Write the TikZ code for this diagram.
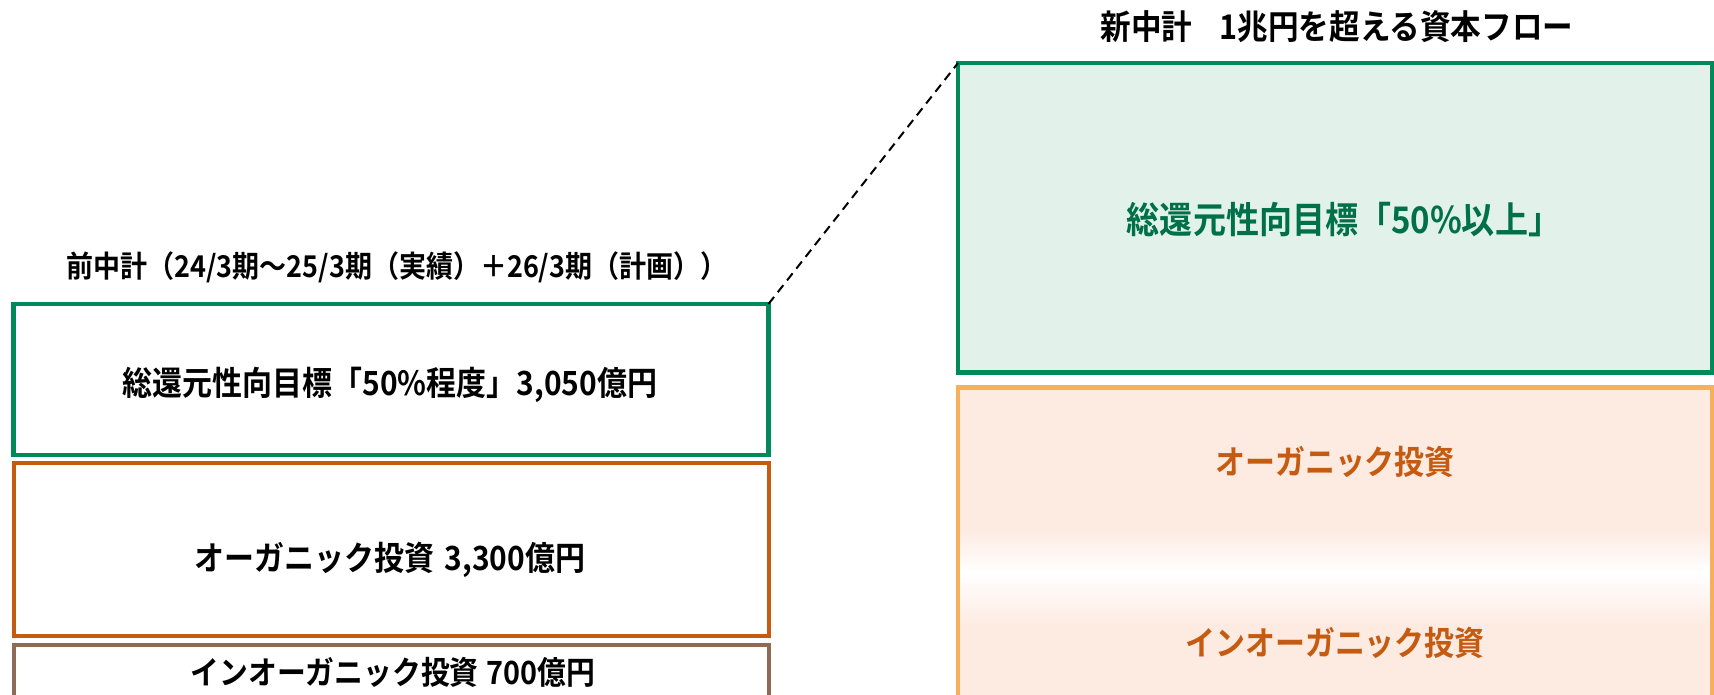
\documentclass[tikz,border=0pt]{standalone}
\usepackage{fontspec}
\setmainfont{Noto Sans CJK JP}[BoldFont={Noto Sans CJK JP Bold}, FakeStretch=0.9]
\definecolor{gline}{HTML}{008A5A}
\definecolor{gfill}{HTML}{E2F2EA}
\definecolor{gtext}{HTML}{00704A}
\definecolor{oline}{HTML}{C55A11}
\definecolor{oline2}{HTML}{F6B05C}
\definecolor{peach}{HTML}{FDEBE2}
\definecolor{bline}{HTML}{8E6B57}
\begin{document}
\begin{tikzpicture}[x=1pt,y=-1pt,
  box/.style={draw, inner sep=0pt, outer sep=0pt, line width=4.5pt},
  lbl/.style={inner sep=0pt, font=\bfseries\fontsize{33.3}{40}\selectfont},
  ttl/.style={inner sep=0pt, font=\bfseries\fontsize{30}{36}\selectfont}]
\useasboundingbox (0,0) rectangle (1714,695);
\clip (0,0) rectangle (1714,695);
% left column
\node[box, draw=gline, minimum width=755pt, minimum height=151pt] (l1) at (391,379.5) {};
\node[box, draw=oline, line width=4pt, minimum width=755pt, minimum height=172.5pt] (l2) at (391,549.25) {};
\node[box, draw=bline, line width=4pt, minimum width=755pt, minimum height=75pt] (l3) at (391,682.5) {};
\node[ttl] (lt) at (397,267) {前中計（24/3期～25/3期（実績）＋26/3期（計画））};
\node[lbl] (l1t) at (390,385) {総還元性向目標「50\%程度」3,050億円};
\node[lbl] (l2t) at (390,560) {オーガニック投資\hspace{0.3em}3,300億円};
\node[lbl, font=\bfseries\fontsize{32}{40}\selectfont] (l3t) at (393,672) {インオーガニック投資\hspace{0.25em}700億円};
% right column
\node[box, draw=gline, fill=gfill, minimum width=754pt, minimum height=309.5pt] (r1) at (1335,217.75) {};
\node[box, draw=oline2, fill=peach, minimum width=754pt, minimum height=332.5pt] (r2) at (1335,553.75) {};
\shade[top color=peach, bottom color=white] (960.5,530) rectangle (1709.5,572);
\shade[top color=white, bottom color=peach] (960.5,572) rectangle (1709.5,625);
\node[lbl, font=\bfseries\fontsize{34}{40}\selectfont] (rt) at (1337,27) {新中計\hspace{0.8em}1兆円を超える資本フロー};
\node[lbl, text=gtext, font=\bfseries\fontsize{36.7}{42}\selectfont] (r1t) at (1344,220) {総還元性向目標「50\%以上」};
\node[lbl, text=oline] (r2a) at (1335,462) {オーガニック投資};
\node[lbl, text=oline] (r2b) at (1335,643) {インオーガニック投資};
% connector
\draw[line width=2pt, dash pattern=on 9pt off 6pt] (l1.north east) -- (r1.north west);
\end{tikzpicture}
\end{document}
